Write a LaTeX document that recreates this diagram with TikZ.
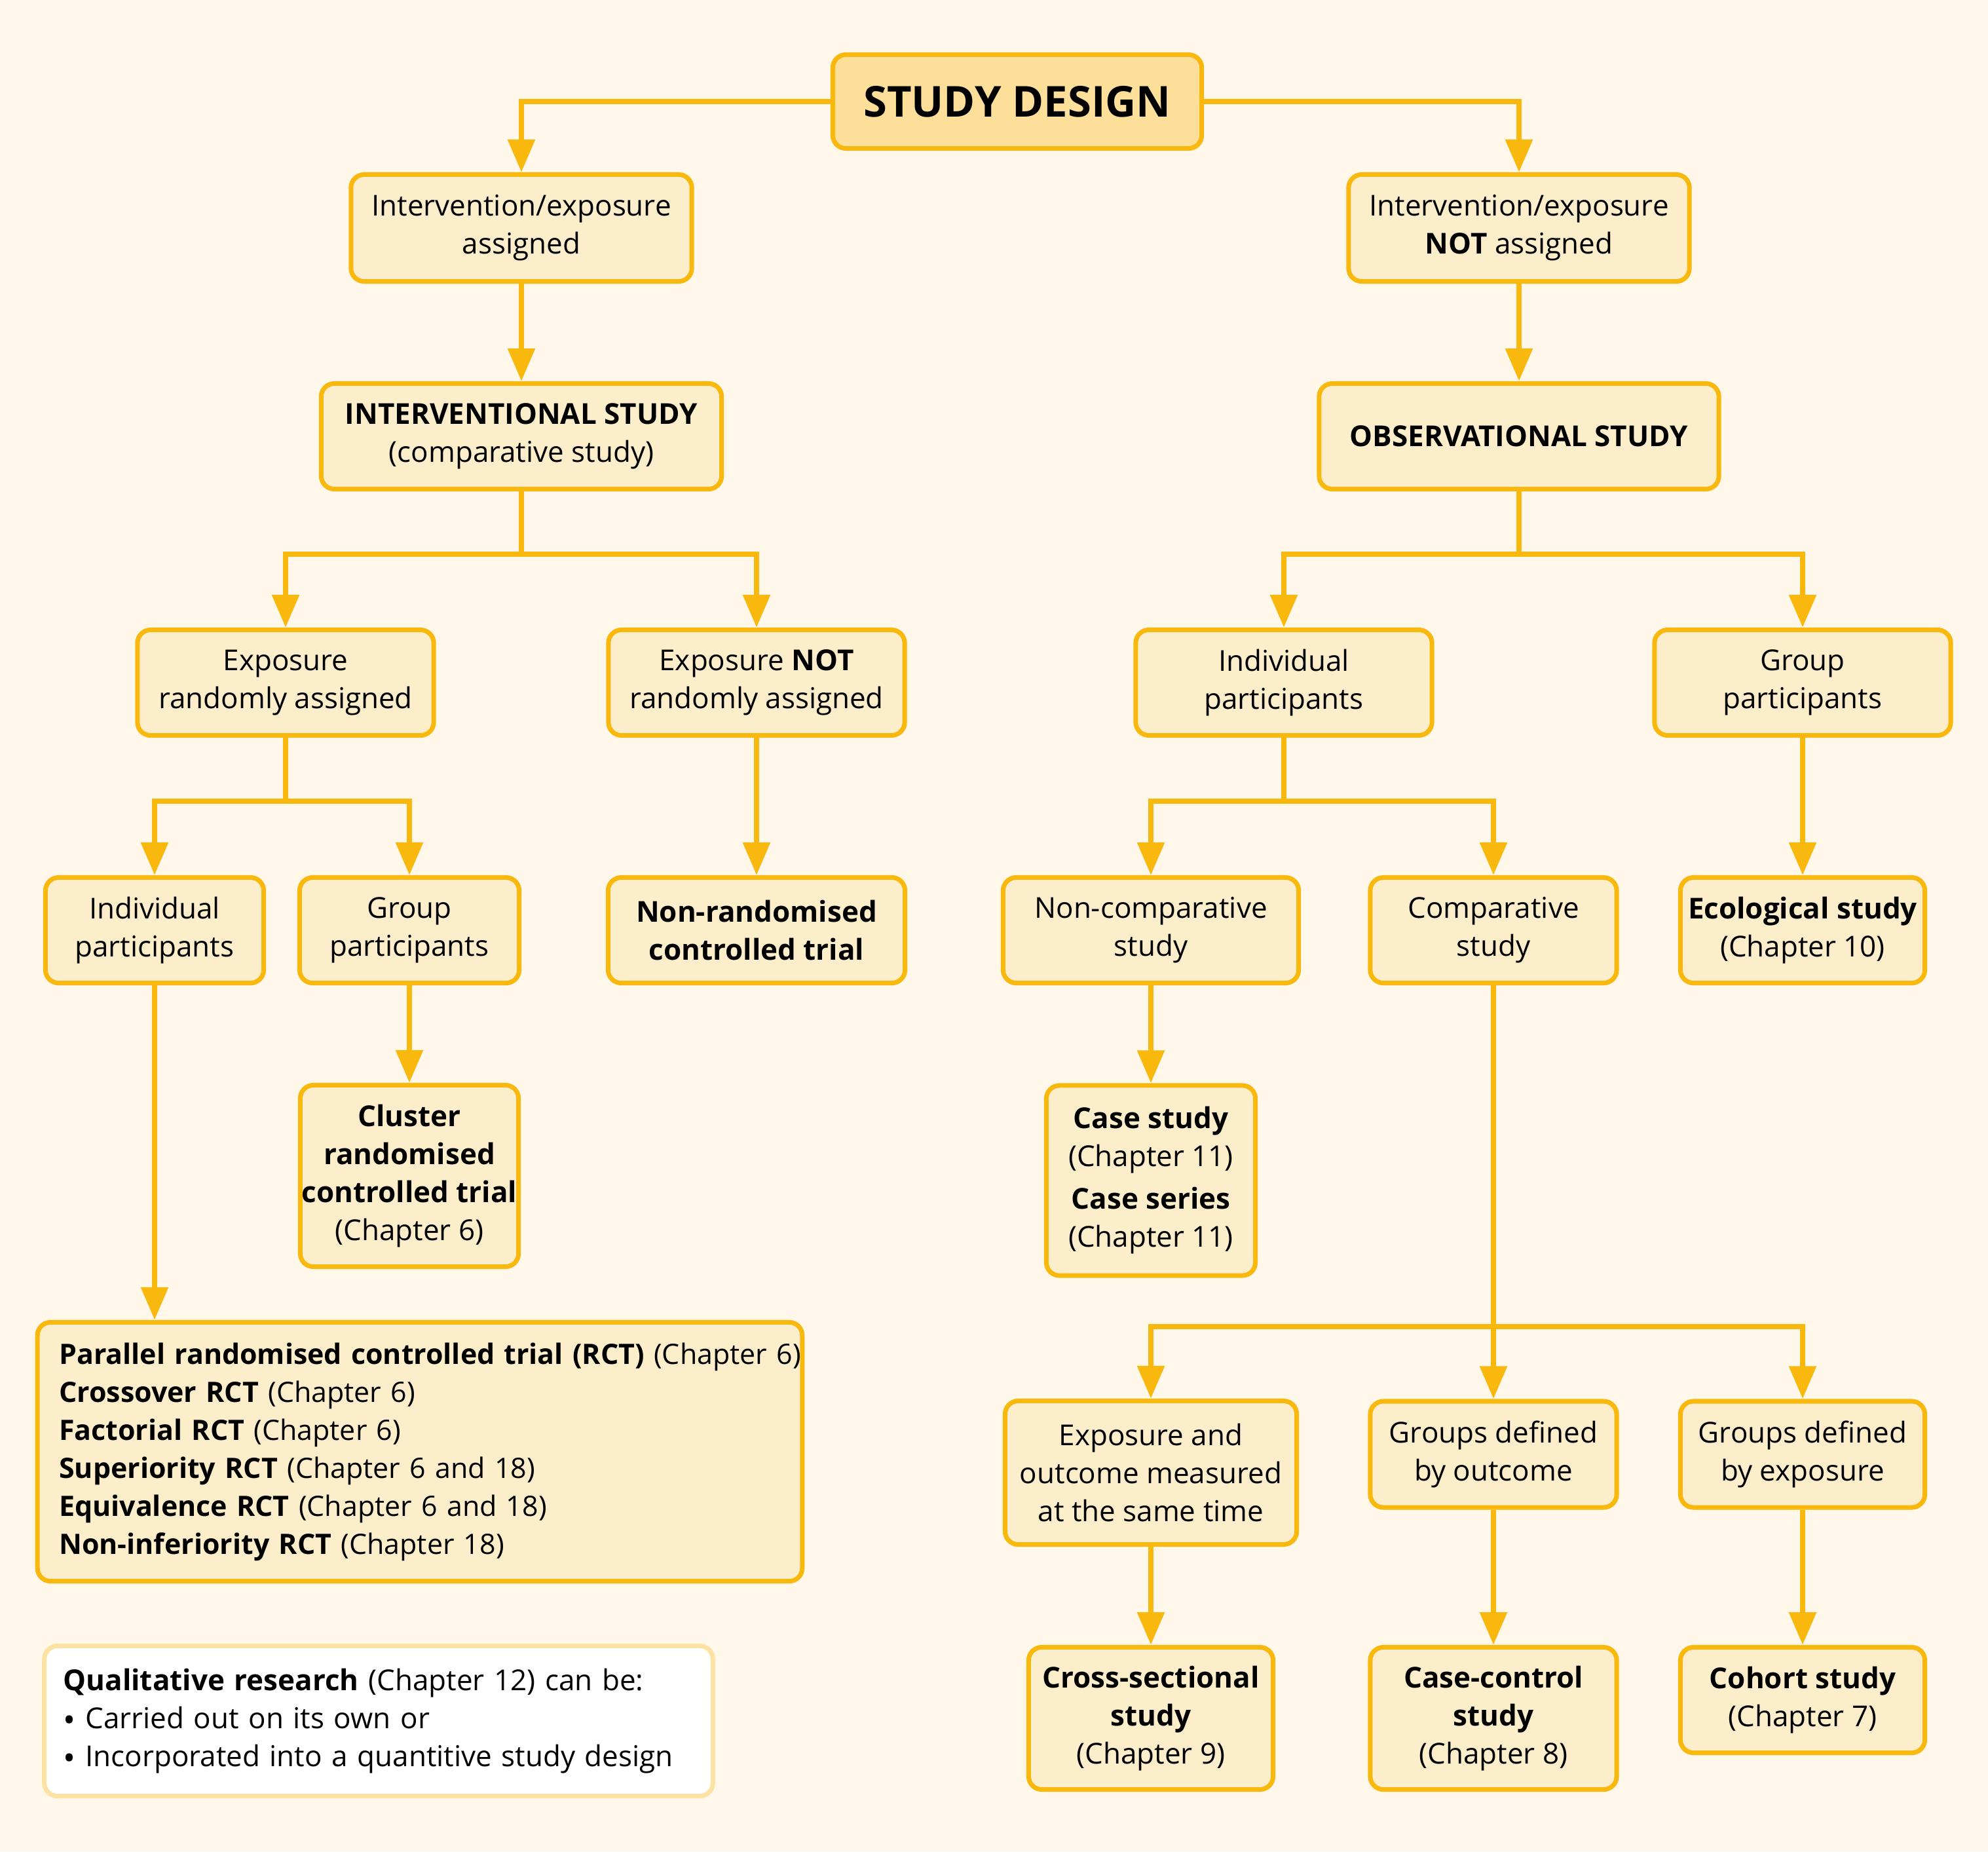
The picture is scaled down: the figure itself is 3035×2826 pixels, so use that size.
\documentclass[tikz,border=0pt]{standalone}
\usepackage{fontspec}
\setmainfont{Open Sans}
\usetikzlibrary{arrows.meta}
\definecolor{paper}{HTML}{FEF7EA}
\definecolor{gold}{HTML}{F8B80E}
\definecolor{boxfill}{HTML}{FDEECB}
\definecolor{topfill}{HTML}{FDDF9A}
\definecolor{palegold}{HTML}{FCE2A3}
\begin{document}
\begin{tikzpicture}[x=0.01cm,y=-0.01cm,
  box/.style={draw=gold,line width=2pt,fill=boxfill,rounded corners=0.2cm,
    align=center,inner sep=0pt,minimum height=1.61cm,
    font=\fontsize{12.5}{16.5}\selectfont},
  link/.style={draw=gold,line width=2.5pt},
  arr/.style={link,-{Triangle[length=0.5cm,width=0.4cm]}}]
\useasboundingbox[fill=paper] (0,0) rectangle (3035,2826);
\node[box,fill=topfill,minimum width=5.63cm,minimum height=1.43cm,
  font=\fontsize{18.5}{20}\selectfont\bfseries] (sd) at (1553,155) {STUDY DESIGN};
\node[box,minimum width=5.2cm,minimum height=1.63cm] (ia) at (796,348)
  {Intervention/exposure\\assigned};
\node[box,minimum width=5.2cm,minimum height=1.63cm] (ina) at (2319,348)
  {Intervention/exposure\\\textbf{NOT} assigned};
\node[box,minimum width=6.11cm] (is) at (796,666)
  {\textbf{INTERVENTIONAL STUDY}\\(comparative study)};
\node[box,minimum width=6.1cm] (os) at (2319,666) {\textbf{OBSERVATIONAL STUDY}};
\node[box,minimum width=4.52cm] (era) at (436,1042) {Exposure\\randomly assigned};
\node[box,minimum width=4.52cm] (enra) at (1155,1042)
  {Exposure \textbf{NOT}\\randomly assigned};
\node[box,minimum width=4.52cm] (ipr) at (1960,1042) {Individual\\participants};
\node[box,minimum width=4.52cm] (gpr) at (2752,1042) {Group\\participants};
\node[box,minimum width=3.33cm] (ipl) at (236,1420) {Individual\\participants};
\node[box,minimum width=3.35cm] (gpl) at (625,1420) {Group\\participants};
\node[box,minimum width=4.53cm] (nrct) at (1155,1420)
  {\textbf{Non-randomised}\\\textbf{controlled trial}};
\node[box,minimum width=4.51cm] (nc) at (1757,1420) {Non-comparative\\study};
\node[box,minimum width=3.76cm] (cs) at (2280,1420) {Comparative\\study};
\node[box,minimum width=3.73cm] (eco) at (2752,1420)
  {\textbf{Ecological study}\\(Chapter 10)};
\node[box,minimum width=3.33cm,minimum height=2.77cm] (clu) at (625,1795)
  {\textbf{Cluster}\\\textbf{randomised}\\\textbf{controlled trial}\\(Chapter 6)};
\node[box,minimum width=3.19cm,minimum height=2.9cm] (cst) at (1757,1802)
  {\textbf{Case study}\\(Chapter 11)\\[0.07cm]\textbf{Case series}\\(Chapter 11)};
\node[box,minimum width=11.67cm,minimum height=3.95cm,text width=11.01cm,align=left,
  font=\fontsize{12.2}{16.5}\selectfont] (rct) at (641,2216)
  {\makebox[\linewidth][l]{\textbf{Parallel randomised controlled trial (RCT)} (Chapter 6)}\\
   \textbf{Crossover RCT} (Chapter 6)\\
   \textbf{Factorial RCT} (Chapter 6)\\
   \textbf{Superiority RCT} (Chapter 6 and 18)\\
   \textbf{Equivalence RCT} (Chapter 6 and 18)\\
   \textbf{Non-inferiority RCT} (Chapter 18)};
\node[box,minimum width=4.45cm,minimum height=2.19cm] (eom) at (1757,2248)
  {Exposure and\\outcome measured\\at the same time};
\node[box,minimum width=3.76cm,minimum height=1.62cm] (gdo) at (2280,2220)
  {Groups defined\\by outcome};
\node[box,minimum width=3.73cm,minimum height=1.62cm] (gde) at (2752,2220)
  {Groups defined\\by exposure};
\node[box,minimum width=3.73cm,minimum height=2.17cm] (xs) at (1757,2623)
  {\textbf{Cross-sectional}\\\textbf{study}\\(Chapter 9)};
\node[box,minimum width=3.76cm,minimum height=2.17cm] (cc) at (2280,2623)
  {\textbf{Case-control}\\\textbf{study}\\(Chapter 8)};
\node[box,minimum width=3.73cm] (coh) at (2752,2595)
  {\textbf{Cohort study}\\(Chapter 7)};
\node[box,draw=palegold,fill=white,minimum width=10.2cm,minimum height=2.29cm,
  text width=9.62cm,align=left] (qual) at (578,2627)
  {\textbf{Qualitative research} (Chapter 12) can be:\\
   {\Large\raisebox{-0.2ex}{•}} Carried out on its own or\\
   {\Large\raisebox{-0.2ex}{•}} Incorporated into a quantitive study design};
\coordinate (jis) at (796,846);
\coordinate (jos) at (2319,846);
\coordinate (jera) at (436,1223);
\coordinate (jipr) at (1960,1223);
\coordinate (jcs) at (2280,2025);
\draw[arr] (sd.west) -| (ia.north);
\draw[arr] (sd.east) -| (ina.north);
\draw[arr] (ia) -- (is);
\draw[arr] (ina) -- (os);
\draw[link] (is.south) -- (jis);
\draw[arr] (jis) -| (era.north);
\draw[arr] (jis) -| (enra.north);
\draw[link] (os.south) -- (jos);
\draw[arr] (jos) -| (ipr.north);
\draw[arr] (jos) -| (gpr.north);
\draw[link] (era.south) -- (jera);
\draw[arr] (jera) -| (ipl.north);
\draw[arr] (jera) -| (gpl.north);
\draw[arr] (enra) -- (nrct);
\draw[link] (ipr.south) -- (jipr);
\draw[arr] (jipr) -| (nc.north);
\draw[arr] (jipr) -| (cs.north);
\draw[arr] (gpr) -- (eco);
\draw[arr] (gpl) -- (clu);
\draw[arr] (nc) -- (cst);
\draw[arr] (ipl.south) -- (ipl.south |- rct.north);
\draw[link] (cs.south) -- (jcs);
\draw[arr] (jcs) -| (eom.north);
\draw[arr] (jcs) -- (gdo.north);
\draw[arr] (jcs) -| (gde.north);
\draw[arr] (eom) -- (xs);
\draw[arr] (gdo) -- (cc);
\draw[arr] (gde) -- (coh);
\end{tikzpicture}
\end{document}
